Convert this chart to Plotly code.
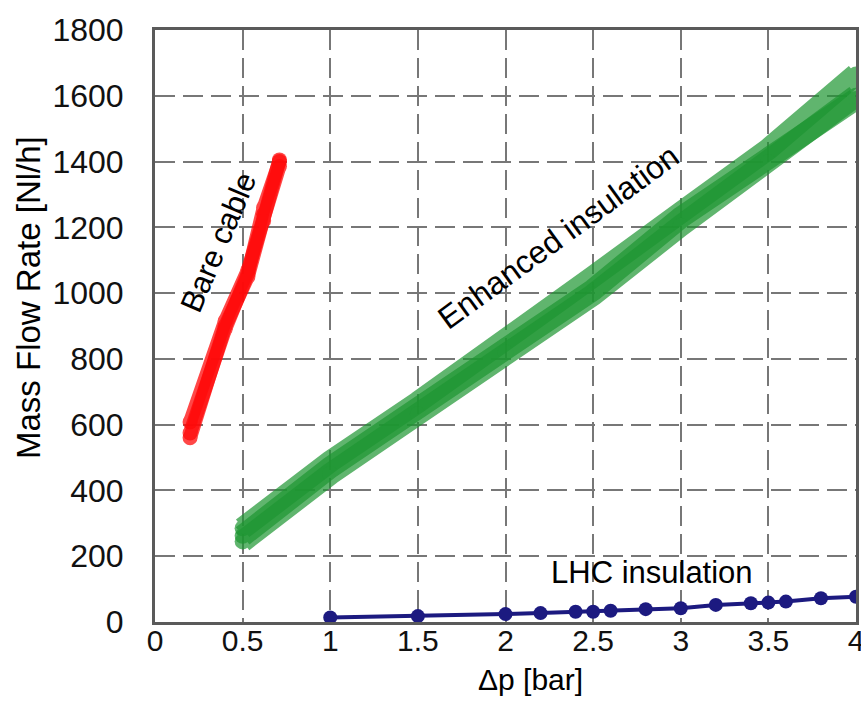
import plotly.graph_objects as go

# ---- data ----
bare_dp = [0.2, 0.4, 0.53, 0.62, 0.71]
bare_runs = [
    [560, 900, 1050, 1240, 1405],
    [608, 915, 1070, 1220, 1385],
    [575, 890, 1060, 1260, 1400],
]

enh_dp = [0.5, 1.0, 1.5, 2.0, 2.5, 3.0, 3.5, 4.0]
enh_runs = [
    [262, 470, 650, 840, 1010, 1230, 1420, 1590],
    [285, 488, 668, 852, 1050, 1245, 1438, 1665],
    [245, 450, 632, 820, 995, 1205, 1398, 1600],
]

lhc_dp = [1.0, 1.5, 2.0, 2.2, 2.4, 2.5, 2.6, 2.8, 3.0, 3.2, 3.4, 3.5, 3.6, 3.8, 4.0]
lhc_flow = [14, 18, 24, 27, 31, 31, 34, 39, 42, 52, 57, 59, 62, 72, 77]

x_ticks = [0, 0.5, 1, 1.5, 2, 2.5, 3, 3.5, 4]
x_tick_text = ["0", "0.5", "1", "1.5", "2", "2.5", "3", "3.5", "4"]
y_ticks = [0, 200, 400, 600, 800, 1000, 1200, 1400, 1600, 1800]

FONT = "Liberation Sans, Arial, sans-serif"
W, H = 861, 702
ML, MR, MT, MB = 155, 5, 30, 80
pw, ph = W - ML - MR, H - MT - MB

fig = go.Figure()

for run in enh_runs:
    fig.add_trace(go.Scatter(
        x=enh_dp, y=run, mode="lines+markers",
        line=dict(color="rgb(30,150,50)", width=22),
        marker=dict(color="rgb(30,150,50)", size=16),
        opacity=0.7, showlegend=False,
    ))

for run in bare_runs:
    fig.add_trace(go.Scatter(
        x=bare_dp, y=run, mode="lines+markers",
        line=dict(color="rgb(255,10,10)", width=14),
        marker=dict(color="rgb(255,10,10)", size=15),
        opacity=0.75, showlegend=False,
    ))

fig.add_trace(go.Scatter(
    x=lhc_dp, y=lhc_flow, mode="lines+markers",
    line=dict(color="#1c1a80", width=4),
    marker=dict(color="#1c1a80", size=14),
    showlegend=False,
))

annots = [
    dict(x=0.36, y=1155, text="Bare cable", textangle=-67, size=31),
    dict(x=2.30, y=1172, text="Enhanced insulation", textangle=-36, size=32),
    dict(x=2.836, y=150, text="LHC insulation", textangle=0, size=31),
]
for a in annots:
    fig.add_annotation(x=a["x"], y=a["y"], xref="x", yref="y", text=a["text"],
                       textangle=a["textangle"], showarrow=False,
                       xanchor="center", yanchor="middle",
                       font=dict(family=FONT, size=a["size"], color="black"))

# axis titles (positioned in pixels, converted to paper coordinates)
fig.add_annotation(x=(28 - ML) / pw, y=(H - MB - 298) / ph, xref="paper", yref="paper",
                   text="Mass Flow Rate [Nl/h]", showarrow=False, textangle=-90,
                   xanchor="center", yanchor="middle",
                   font=dict(family=FONT, size=33, color="black"))
fig.add_annotation(x=(530 - ML) / pw, y=(H - MB - 679) / ph, xref="paper", yref="paper",
                   text="Δp [bar]", showarrow=False,
                   xanchor="center", yanchor="middle",
                   font=dict(family=FONT, size=30, color="black"))

grid = dict(showgrid=True, gridcolor="#777777", gridwidth=1.5, griddash="20px,8px",
            showline=True, linecolor="#5a5a5a", linewidth=3, mirror=True,
            zeroline=False, ticks="", automargin=False)

fig.update_xaxes(range=[0, 4], tickvals=x_ticks, ticktext=x_tick_text,
                 ticklabelstandoff=-10, ticklabeloverflow="allow",
                 tickfont=dict(family=FONT, size=30, color="#111"), **grid)
fig.update_yaxes(range=[0, 1800], tickvals=y_ticks, ticklabelstandoff=22,
                 tickfont=dict(family=FONT, size=32, color="#111"), **grid)

fig.update_layout(
    width=W, height=H,
    margin=dict(l=ML, r=MR, t=MT, b=MB, autoexpand=False),
    plot_bgcolor="white", paper_bgcolor="white",
)

fig.write_html("out.html")
